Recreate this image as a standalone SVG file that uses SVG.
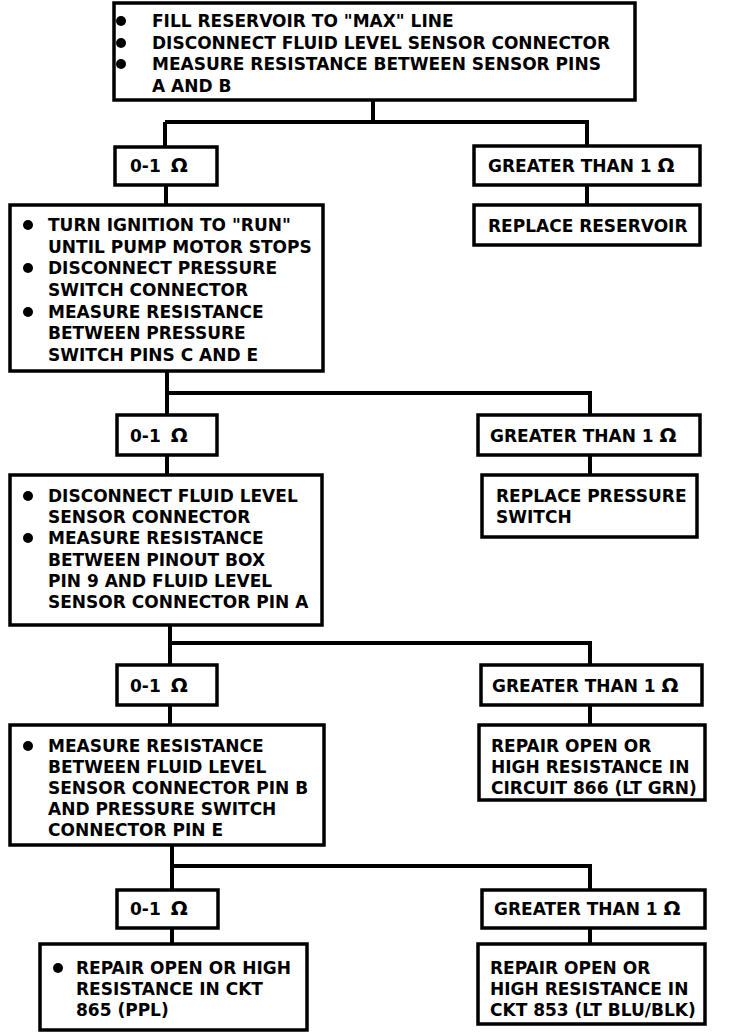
<svg xmlns="http://www.w3.org/2000/svg" width="752" height="1034" viewBox="0 0 752 1034">
<style>
rect.b{fill:#fff;stroke:#000;stroke-width:3.5}
text{font-family:"DejaVu Sans","Liberation Sans",sans-serif;font-weight:bold;font-size:17px;fill:#000}
tspan.o{font-size:20px}
.c path{fill:none;stroke:#000;stroke-width:4}
circle{fill:#000}
</style>
<rect width="752" height="1034" fill="#fff"/>
<g class="c" id="connectors">
<path d="M373,100V122M165,122H589M165,122V147M587,122V146"/>
<path d="M166,185V205M587,185V205"/>
<path d="M167,371V393H592M167,393V415M590,393V415"/>
<path d="M167,455V475M590,455V475"/>
<path d="M170,625V643H592M170,643V665M590,643V665"/>
<path d="M170,705V725M590,705V725"/>
<path d="M172,845V866H592M172,866V890M590,866V890"/>
<path d="M172,928V944M590,928V944"/>
</g>
<g id="n1">
<rect class="b" x="114" y="3" width="521" height="97"/>
<circle cx="121" cy="21" r="5"/><circle cx="121" cy="43" r="5"/><circle cx="121" cy="64" r="5"/>
<text x="152" y="27">FILL RESERVOIR TO "MAX" LINE</text>
<text x="152" y="49">DISCONNECT FLUID LEVEL SENSOR CONNECTOR</text>
<text x="152" y="70">MEASURE RESISTANCE BETWEEN SENSOR PINS</text>
<text x="152" y="92">A AND B</text>
</g>
<g id="n2"><rect class="b" x="115" y="147" width="102" height="38"/><text x="130" y="172">0-1 <tspan class="o" dx="4">Ω</tspan></text></g>
<g id="n3"><rect class="b" x="474" y="146" width="226" height="39"/><text x="488" y="172">GREATER THAN 1 <tspan class="o">Ω</tspan></text></g>
<g id="n4"><rect class="b" x="474" y="205" width="226" height="40"/><text x="488" y="232">REPLACE RESERVOIR</text></g>
<g id="n5">
<rect class="b" x="10" y="205" width="313" height="166"/>
<circle cx="28" cy="225" r="5"/><circle cx="28" cy="268" r="5"/><circle cx="28" cy="312" r="5"/>
<text x="48" y="231">TURN IGNITION TO "RUN"</text>
<text x="48" y="253">UNTIL PUMP MOTOR STOPS</text>
<text x="48" y="274">DISCONNECT PRESSURE</text>
<text x="48" y="296">SWITCH CONNECTOR</text>
<text x="48" y="318">MEASURE RESISTANCE</text>
<text x="48" y="339">BETWEEN PRESSURE</text>
<text x="48" y="361">SWITCH PINS C AND E</text>
</g>
<g id="n6"><rect class="b" x="117" y="415" width="100" height="40"/><text x="130" y="442">0-1 <tspan class="o" dx="4">Ω</tspan></text></g>
<g id="n7"><rect class="b" x="478" y="415" width="222" height="40"/><text x="490" y="442">GREATER THAN 1 <tspan class="o">Ω</tspan></text></g>
<g id="n8">
<rect class="b" x="482" y="475" width="215" height="62"/>
<text x="496" y="502">REPLACE PRESSURE</text>
<text x="496" y="523">SWITCH</text>
</g>
<g id="n9">
<rect class="b" x="10" y="475" width="312" height="150"/>
<circle cx="28" cy="496" r="5"/><circle cx="28" cy="538" r="5"/>
<text x="48" y="502">DISCONNECT FLUID LEVEL</text>
<text x="48" y="523">SENSOR CONNECTOR</text>
<text x="48" y="544">MEASURE RESISTANCE</text>
<text x="48" y="566">BETWEEN PINOUT BOX</text>
<text x="48" y="587">PIN 9 AND FLUID LEVEL</text>
<text x="48" y="608">SENSOR CONNECTOR PIN A</text>
</g>
<g id="n10"><rect class="b" x="117" y="665" width="100" height="40"/><text x="130" y="692">0-1 <tspan class="o" dx="4">Ω</tspan></text></g>
<g id="n11"><rect class="b" x="481" y="665" width="221" height="40"/><text x="492" y="692">GREATER THAN 1 <tspan class="o">Ω</tspan></text></g>
<g id="n12">
<rect class="b" x="479" y="725" width="226" height="75"/>
<text x="491" y="752">REPAIR OPEN OR</text>
<text x="491" y="773">HIGH RESISTANCE IN</text>
<text x="491" y="794">CIRCUIT 866 (LT GRN)</text>
</g>
<g id="n13">
<rect class="b" x="10" y="725" width="314" height="120"/>
<circle cx="28" cy="746" r="5"/>
<text x="48" y="752">MEASURE RESISTANCE</text>
<text x="48" y="773">BETWEEN FLUID LEVEL</text>
<text x="48" y="794">SENSOR CONNECTOR PIN B</text>
<text x="48" y="815">AND PRESSURE SWITCH</text>
<text x="48" y="836">CONNECTOR PIN E</text>
</g>
<g id="n14"><rect class="b" x="117" y="890" width="101" height="38"/><text x="130" y="915">0-1 <tspan class="o" dx="4">Ω</tspan></text></g>
<g id="n15"><rect class="b" x="482" y="890" width="223" height="38"/><text x="494" y="915">GREATER THAN 1 <tspan class="o">Ω</tspan></text></g>
<g id="n16">
<rect class="b" x="40" y="944" width="267" height="86"/>
<circle cx="58" cy="968" r="5"/>
<text x="76" y="974">REPAIR OPEN OR HIGH</text>
<text x="76" y="995">RESISTANCE IN CKT</text>
<text x="76" y="1016">865 (PPL)</text>
</g>
<g id="n17">
<rect class="b" x="478" y="944" width="227" height="80"/>
<text x="490" y="974">REPAIR OPEN OR</text>
<text x="490" y="995">HIGH RESISTANCE IN</text>
<text x="490" y="1016">CKT 853 (LT BLU/BLK)</text>
</g>
</svg>
